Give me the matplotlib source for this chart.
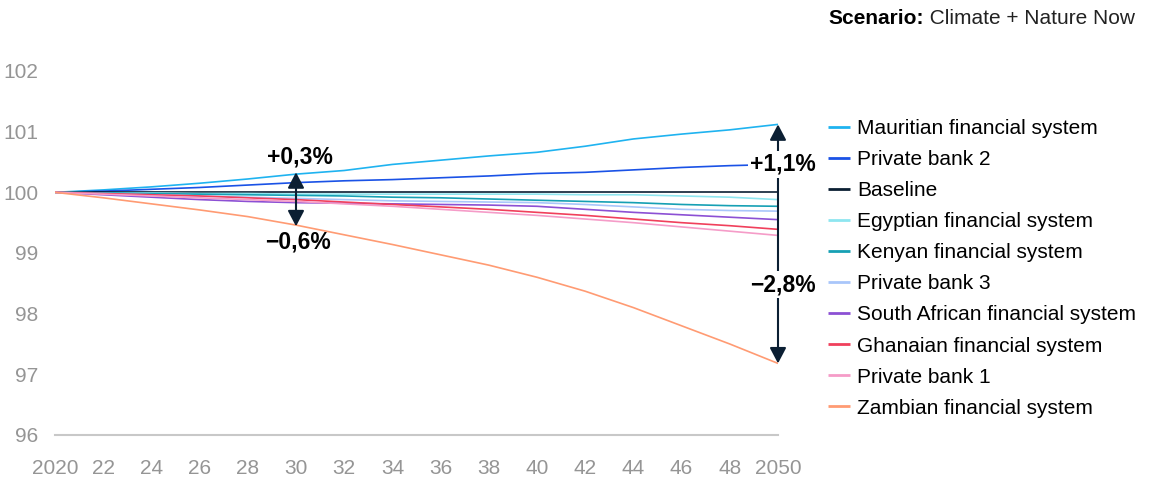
import matplotlib.pyplot as plt

plt.rcParams['font.family'] = ['Liberation Sans', 'DejaVu Sans']

years = list(range(2020, 2051, 2))

mauritian = [100, 100.04, 100.09, 100.15, 100.22, 100.30, 100.36, 100.46,
             100.53, 100.60, 100.66, 100.76, 100.88, 100.96, 101.03, 101.12]
private_bank_2 = [100, 100.02, 100.05, 100.08, 100.12, 100.16, 100.19, 100.21,
                  100.24, 100.27, 100.31, 100.33, 100.37, 100.41, 100.44, 100.46]
baseline = [100] * 16
egyptian = [100, 99.99, 99.99, 99.98, 99.98, 99.97, 99.97, 99.97,
            99.97, 99.97, 99.97, 99.96, 99.96, 99.94, 99.92, 99.88]
kenyan = [100, 99.99, 99.98, 99.97, 99.96, 99.95, 99.94, 99.92,
          99.91, 99.89, 99.87, 99.85, 99.83, 99.80, 99.78, 99.77]
private_bank_3 = [100, 99.98, 99.96, 99.94, 99.92, 99.90, 99.88, 99.86,
                  99.85, 99.84, 99.83, 99.80, 99.76, 99.72, 99.70, 99.69]
south_african = [100, 99.96, 99.92, 99.88, 99.85, 99.83, 99.82, 99.81,
                 99.80, 99.79, 99.77, 99.72, 99.67, 99.63, 99.59, 99.55]
ghanaian = [100, 99.98, 99.96, 99.94, 99.91, 99.88, 99.84, 99.80,
            99.76, 99.72, 99.67, 99.62, 99.56, 99.50, 99.45, 99.39]
private_bank_1 = [100, 99.97, 99.94, 99.91, 99.88, 99.85, 99.81, 99.77,
                  99.72, 99.67, 99.62, 99.56, 99.50, 99.43, 99.36, 99.29]
zambian = [100, 99.91, 99.81, 99.71, 99.60, 99.46, 99.30, 99.14,
           98.97, 98.80, 98.60, 98.37, 98.10, 97.80, 97.50, 97.18]

series = [
    ('Mauritian financial system', mauritian, '#1fb3f0'),
    ('Private bank 2', private_bank_2, '#1a52e6'),
    ('Baseline', baseline, '#0b1f33'),
    ('Egyptian financial system', egyptian, '#8ee6f0'),
    ('Kenyan financial system', kenyan, '#16a0b4'),
    ('Private bank 3', private_bank_3, '#a9c6fa'),
    ('South African financial system', south_african, '#8c50d4'),
    ('Ghanaian financial system', ghanaian, '#f0405c'),
    ('Private bank 1', private_bank_1, '#f59cc8'),
    ('Zambian financial system', zambian, '#ff9b73'),
]

xtick_labels = ['2020', '22', '24', '26', '28', '30', '32', '34', '36',
                '38', '40', '42', '44', '46', '48', '2050']
yticks = [96, 97, 98, 99, 100, 101, 102]

# annotation values: (year, top, bottom, top label, bottom label)
span_2030 = (2030, 100.33, 99.44, '+0,3%', '\u22120,6%')
span_2050 = (2050, 101.12, 97.18, '+1,1%', '\u22122,8%')

W, H = 1150, 480
fig = plt.figure(figsize=(W / 100, H / 100), dpi=100)
ax = fig.add_axes([55 / W, (H - 435) / H, (778 - 55) / W, (435 - 71) / H])

for name, vals, color in series:
    ax.plot(years, vals, color=color, lw=1.2, label=name, solid_capstyle='butt')

ax.set_xlim(2020, 2050)
ax.set_ylim(96, 102)
ax.set_xticks(years)
ax.set_xticklabels(xtick_labels)
ax.set_yticks(yticks)
ax.tick_params(axis='both', length=0, colors='#959595', labelsize=15)
ax.tick_params(axis='y', pad=12)
ax.tick_params(axis='x', pad=17)
for s in ['top', 'right', 'left']:
    ax.spines[s].set_visible(False)
ax.spines['bottom'].set_color('#c8c8c8')
ax.spines['bottom'].set_linewidth(1.5)

arrow_color = '#0b1f33'
aprops = dict(arrowstyle='<|-|>,head_length=0.95,head_width=0.5',
              color=arrow_color, lw=1.5, shrinkA=0, shrinkB=0)
lab_kw = dict(ha='center', va='center', fontsize=16.5, fontweight='bold',
              color='black')

x, top, bot, tl, bl = span_2030
ax.annotate('', xy=(x, top), xytext=(x, bot), arrowprops=aprops, zorder=5)
ax.text(x + 0.15, 100.59, tl, **lab_kw)
ax.text(x + 0.1, 99.18, bl, **lab_kw)

x, top, bot, tl, bl = span_2050
ax.annotate('', xy=(x, top), xytext=(x, bot), arrowprops=aprops, zorder=5,
            annotation_clip=False)
box = dict(facecolor='white', edgecolor='none', pad=1.5)
ax.text(x + 0.2, 100.46, tl, bbox=box, zorder=6, clip_on=False, **lab_kw)
ax.text(x + 0.2, 98.48, bl, bbox=box, zorder=6, clip_on=False, **lab_kw)

leg = ax.legend(loc='upper left', bbox_to_anchor=(828 / W, (H - 119) / H),
                bbox_transform=fig.transFigure, frameon=False, fontsize=15,
                handlelength=1.06, handletextpad=0.34, labelspacing=0.58,
                borderaxespad=0, borderpad=0)
for line in leg.get_lines():
    line.set_linewidth(2)

t1 = fig.text(828 / W, (H - 18) / H, 'Scenario:', fontsize=15,
              fontweight='bold', va='center', ha='left')
ax.annotate(' Climate + Nature Now', xy=(1, 0.5), xycoords=t1,
            va='center', ha='left', fontsize=15, color='#222222')

fig.savefig('out.png', dpi=100)
